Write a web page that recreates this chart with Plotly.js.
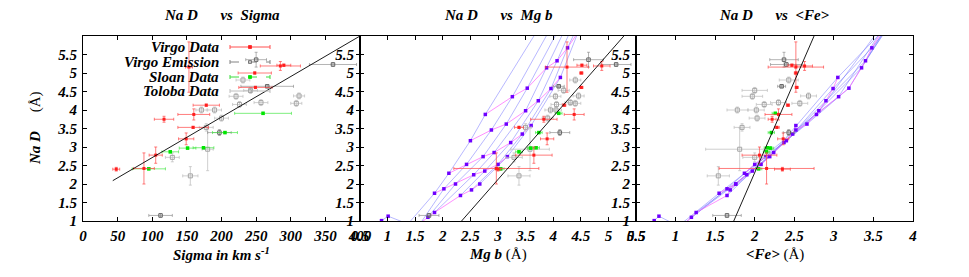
<!DOCTYPE html>
<html><head><meta charset="utf-8">
<script src="https://cdn.plot.ly/plotly-3.0.1.min.js"></script>
<style>html,body{margin:0;padding:0;background:#fff}#chart{width:969px;height:277px}</style>
</head><body><div id="chart"></div>
<script>
// ---------------- data ----------------
// Virgo Data (red)
const virgoNaD      = [5.16,5.19,5.21,5.00,4.61,4.13,3.88,3.75,3.53,3.22,2.78,2.42,2.40];
const virgoNaDErr   = [0.68,0.12,0.03,0.03,0.03,0.03,0.15,0.08,0.03,0.16,0.22,0.42,0.05];
const virgoSigma    = [153,285,290,248,249,178,160,117,159,149,105,88,48];
const virgoSigmaErr = [5,29,10,24,24,19,23,14,22,11,9.5,15,5];
const virgoMgb      = [4.25,4.88,4.52,4.51,4.51,4.20,4.38,3.83,3.38,3.89,3.65,2.97,3.00];
const virgoMgbErr   = [0.39,0.15,0.09,0.03,0.03,0.03,0.18,0.24,0.08,0.12,0.33,0.77,0.05];
const virgoFe       = [2.52,2.63,2.47,2.52,2.53,2.42,2.30,2.22,2.28,2.36,2.06,2.15,2.35];
const virgoFeErr    = [0.35,0.10,0.05,0.02,0.02,0.02,0.17,0.05,0.03,0.07,0.22,0.60,0.10];

// Virgo Emission (dark grey)
const emisNaD      = [5.36,5.23,4.64,3.39,1.15];
const emisNaDErr   = [0.20,0.05,0.03,0.08,0.05];
const emisSigma    = [250,361,266,197,112];
const emisSigmaErr = [15,34,38,17,17];
const emisMgb      = [4.64,5.14,4.10,4.12,1.75];
const emisMgbErr   = [0.27,0.27,0.10,0.18,0.18];
const emisFe       = [2.37,2.40,2.34,2.43,1.65];
const emisFeErr    = [0.18,0.20,0.05,0.07,0.18];

// Sloan Data (green)
const sloanNaD      = [3.91,3.39,2.98,2.97,2.87,2.41];
const sloanNaDErr   = [0.03,0.03,0.03,0.03,0.03,0.03];
const sloanSigma    = [260,205,174,151,126,95];
const sloanSigmaErr = [41,18,15,12,12,24];
const sloanMgb      = [4.10,3.74,3.69,3.59,3.38,3.05];
const sloanMgbErr   = [0.06,0.06,0.06,0.06,0.06,0.06];
const sloanFe       = [2.26,2.21,2.16,2.20,2.15,2.05];
const sloanFeErr    = [0.04,0.04,0.04,0.04,0.04,0.04];

// Toloba Data (light grey)
const tolobaNaD      = [4.81,4.53,4.37,4.15,4.20,4.38,4.18,4.00,4.00,3.78,3.53,2.94,2.72,2.22];
const tolobaNaDErr   = [0.08,0.08,0.08,0.08,0.08,0.08,0.08,0.08,0.08,0.08,0.10,0.58,0.12,0.25];
const tolobaSigma    = [231,242,221,226,257,312,308,171,190,200,178,180,129,155];
const tolobaSigmaErr = [10,10,10,10,10,8,8,8,10,10,10,8,10,11];
const tolobaMgb      = [4.40,4.19,4.04,4.06,4.31,4.46,4.40,3.95,4.05,3.90,3.50,3.58,3.29,3.38];
const tolobaMgbErr   = [0.10,0.10,0.10,0.10,0.10,0.10,0.10,0.10,0.10,0.10,0.10,0.35,0.15,0.20];
const tolobaFe       = [2.43,2.00,1.97,2.12,2.30,2.68,2.57,1.78,2.02,2.03,1.84,1.81,2.00,1.54];
const tolobaFeErr    = [0.12,0.16,0.13,0.10,0.10,0.10,0.10,0.13,0.10,0.10,0.10,0.43,0.15,0.14];

// model grid: rows (top -> bottom), 7 columns each
const gridNaD = [
  [6.60,6.60,6.60,6.60,6.60,6.60,6.60],
  [3.88,4.36,4.59,5.14,5.33,5.68,6.10],
  [3.17,3.46,3.62,3.98,4.25,4.58,4.88],
  [2.29,2.53,2.74,2.85,3.12,3.35,3.58],
  [1.75,1.87,2.00,2.25,2.35,2.53,2.74],
  [0.80,0.95,1.10,1.23,1.69,1.84,2.00]
];
const gridMgb = [
  [3.90,4.10,4.25,4.35,4.45,4.55,4.65],
  [2.77,3.26,3.53,3.88,4.07,4.26,4.45],
  [2.50,2.88,3.15,3.50,3.73,3.96,4.13],
  [2.11,2.43,2.73,2.93,3.23,3.44,3.60],
  [1.85,2.02,2.23,2.56,2.76,3.00,3.17],
  [1.30,1.60,1.73,1.85,2.32,2.52,2.67]
];
const gridFe = [
  [3.72,3.74,3.76,3.78,3.80,3.82,3.84],
  [2.78,3.06,3.19,3.35,3.40,3.48,3.60],
  [2.40,2.52,2.66,2.81,2.90,2.99,3.05],
  [1.87,2.00,2.14,2.24,2.37,2.48,2.52],
  [1.55,1.65,1.76,1.90,1.97,2.08,2.19],
  [1.00,1.12,1.20,1.26,1.65,1.69,1.76]
];
// short lowest-metallicity track (bottom left)
const lowNaD = [1.01,1.13,0.90];
const lowMgb = [0.89,1.01,1.40];
const lowFe  = [0.73,0.79,1.00];

// fitted lines (end points)
const fitSigmaX = [43,400];    const fitSigmaY = [2.09,6.00];
const fitMgbX   = [2.34,5.28]; const fitMgbY   = [1.00,6.00];
const fitFeX    = [1.735,2.75]; const fitFeY   = [1.00,6.00];

// ticks
const yTickVals = [1,1.5,2,2.5,3,3.5,4,4.5,5,5.5];
const yTickText = ['1','1.5','2','2.5','3','3.5','4','4.5','5','5.5'];
const x1TickVals = [0,50,100,150,200,250,300,350,400];
const x1TickText = ['0','50','100','150','200','250','300','350','400'];
const x2TickVals = [0.5,1,1.5,2,2.5,3,3.5,4,4.5,5,5.5];
const x2TickText = ['0.5','1','1.5','2','2.5','3','3.5','4','4.5','5','5.5'];
const x3TickVals = [0.5,1,1.5,2,2.5,3,3.5,4];
const x3TickText = ['0.5','1','1.5','2','2.5','3','3.5','4'];

const legendNames = ['Virgo Data','Virgo Emission','Sloan Data','Toloba Data'];
const panelTitles = ['Na D\u00a0\u00a0\u00a0\u00a0\u00a0\u00a0vs\u00a0\u00a0Sigma',
                     'Na D\u00a0\u00a0\u00a0\u00a0\u00a0\u00a0vs\u00a0\u00a0Mg b',
                     'Na D\u00a0\u00a0\u00a0\u00a0\u00a0\u00a0vs\u00a0\u00a0&lt;Fe&gt;'];

// ---------------- styles ----------------
const SERIF = 'Liberation Serif, Times New Roman, serif';
const RED = 'rgb(255,30,30)', RED_E = 'rgba(255,70,70,0.7)';
const EMIS = 'rgb(100,100,100)', EMIS_E = 'rgba(130,130,130,0.6)';
const GRN = 'rgb(0,230,0)', GRN_E = 'rgba(60,230,60,0.65)';
const TOL = 'rgb(165,165,165)', TOL_E = 'rgba(195,195,195,0.8)';
const PURPLE = 'rgb(110,0,255)';
const BLUE_L = 'rgba(110,110,255,0.7)', MAG_L = 'rgba(255,90,255,0.85)';

function errTrace(x, xe, y, ye, xa, ya, ecol, marker) {
  return {type:'scatter', mode:'markers', x:x, y:y, xaxis:xa, yaxis:ya,
    error_x:{type:'data', array:xe, visible:true, color:ecol, thickness:1, width:1.5},
    error_y:{type:'data', array:ye, visible:true, color:ecol, thickness:1, width:1.5},
    marker:marker, hoverinfo:'skip', showlegend:false};
}
function gridTraces(xg, xlow, xa, ya) {
  const t = [];
  for (let c = 0; c < gridNaD[0].length; c++) {
    t.push({type:'scatter', mode:'lines', x:xg.map(r=>r[c]), y:gridNaD.map(r=>r[c]),
      xaxis:xa, yaxis:ya, line:{color:BLUE_L, width:0.7}, hoverinfo:'skip', showlegend:false});
  }
  for (let r = 0; r < gridNaD.length; r++) {
    t.push({type:'scatter', mode:'lines', x:xg[r], y:gridNaD[r],
      xaxis:xa, yaxis:ya, line:{color:MAG_L, width:0.8}, hoverinfo:'skip', showlegend:false});
  }
  t.push({type:'scatter', mode:'lines+markers', x:xlow, y:lowNaD, xaxis:xa, yaxis:ya,
    line:{color:BLUE_L, width:0.7}, marker:{symbol:'square', size:3.5, color:PURPLE},
    hoverinfo:'skip', showlegend:false});
  t.push({type:'scatter', mode:'markers', x:xg.flat(), y:gridNaD.flat(), xaxis:xa, yaxis:ya,
    marker:{symbol:'square', size:3.5, color:PURPLE}, hoverinfo:'skip', showlegend:false});
  return t;
}
function dataTraces(xs, xa, ya) {
  return [
    errTrace(xs.tol[0], xs.tol[1], tolobaNaD, tolobaNaDErr, xa, ya, TOL_E,
      {symbol:'square-open', size:4, color:TOL, line:{width:1, color:TOL}}),
    errTrace(xs.emis[0], xs.emis[1], emisNaD, emisNaDErr, xa, ya, EMIS_E,
      {symbol:'square-open', size:3.5, color:EMIS, line:{width:1, color:EMIS}}),
    errTrace(xs.sloan[0], xs.sloan[1], sloanNaD, sloanNaDErr, xa, ya, GRN_E,
      {symbol:'square', size:3.5, color:GRN}),
    errTrace(xs.virgo[0], xs.virgo[1], virgoNaD, virgoNaDErr, xa, ya, RED_E,
      {symbol:'square', size:3, color:RED})
  ];
}
function fitTrace(x, y, xa, ya) {
  return {type:'scatter', mode:'lines', x:x, y:y, xaxis:xa, yaxis:ya,
    line:{color:'#000', width:0.9}, hoverinfo:'skip', showlegend:false};
}

let traces = [];
traces = traces.concat(dataTraces({tol:[tolobaSigma,tolobaSigmaErr], emis:[emisSigma,emisSigmaErr],
  sloan:[sloanSigma,sloanSigmaErr], virgo:[virgoSigma,virgoSigmaErr]}, 'x', 'y'));
traces.push(fitTrace(fitSigmaX, fitSigmaY, 'x', 'y'));

traces = traces.concat(gridTraces(gridMgb, lowMgb, 'x2', 'y2'));
traces = traces.concat(dataTraces({tol:[tolobaMgb,tolobaMgbErr], emis:[emisMgb,emisMgbErr],
  sloan:[sloanMgb,sloanMgbErr], virgo:[virgoMgb,virgoMgbErr]}, 'x2', 'y2'));
traces.push(fitTrace(fitMgbX, fitMgbY, 'x2', 'y2'));

traces = traces.concat(gridTraces(gridFe, lowFe, 'x3', 'y3'));
traces = traces.concat(dataTraces({tol:[tolobaFe,tolobaFeErr], emis:[emisFe,emisFeErr],
  sloan:[sloanFe,sloanFeErr], virgo:[virgoFe,virgoFeErr]}, 'x3', 'y3'));
traces.push(fitTrace(fitFeX, fitFeY, 'x3', 'y3'));

// ---------------- layout ----------------
const W = 969, H = 277;
const px = v => v / W, py = v => 1 - v / H;
const tickFont = {family:SERIF, size:15, weight:'bold', style:'italic', color:'#000'};
function xAx(dom, range, tv, tt, anchor) {
  return {domain:dom, range:range, tickvals:tv, ticktext:tt, anchor:anchor,
    ticks:'inside', ticklen:4, tickcolor:'#000', tickwidth:1, showline:true, linecolor:'#000',
    linewidth:1, mirror:'ticks', showgrid:false, zeroline:false, tickfont:tickFont,
    ticklabelstandoff:1, automargin:false, fixedrange:true};
}
function yAx(anchor) {
  return {domain:[py(221), py(36)], range:[1,6], tickvals:yTickVals, ticktext:yTickText, anchor:anchor,
    ticks:'inside', ticklen:4, tickcolor:'#000', tickwidth:1, showline:true, linecolor:'#000',
    linewidth:1, mirror:'ticks', showgrid:false, zeroline:false, tickfont:tickFont,
    ticklabelstandoff:2, automargin:false, fixedrange:true};
}

const titleFont = {family:SERIF, size:15, color:'#000'};
const annotations = [];
const centers = [px(221.5), px(498), px(774.5)];
panelTitles.forEach((t, i) => annotations.push({xref:'paper', yref:'paper', x:centers[i], y:py(15),
  xanchor:'center', yanchor:'middle', showarrow:false, text:'<b><i>' + t + '</i></b>', font:titleFont}));
const xTitles = ['<b><i>Sigma in km s<sup>-1</sup></i></b>', '<b><i>Mg b</i></b> (Å)', '<b><i>&lt;Fe&gt;</i></b> (Å)'];
xTitles.forEach((t, i) => annotations.push({xref:'paper', yref:'paper', x:centers[i], y:py(254),
  xanchor:'center', yanchor:'middle', showarrow:false, text:t, font:{family:SERIF, size:15, color:'#000'}}));
annotations.push({xref:'paper', yref:'paper', x:px(35), y:py(128), xanchor:'center', yanchor:'middle',
  textangle:-90, showarrow:false, text:'<b><i>Na D</i></b>\u00a0\u00a0\u00a0\u00a0\u00a0(Å)',
  font:{family:SERIF, size:15, color:'#000'}});

// legend (text on the left, sample on the right, as in the original)
const legRows = [47, 62, 77, 91];
const legStyle = [
  {c:'rgb(255,80,80)', dash:'solid', m:RED, open:false},
  {c:'rgb(130,130,130)', dash:'dash', m:EMIS, open:true},
  {c:'rgb(60,220,60)', dash:'dash', m:GRN, open:false},
  {c:'rgb(190,190,190)', dash:'solid', m:TOL, open:true}
];
const shapes = [];
legendNames.forEach((n, i) => {
  const yy = legRows[i];
  annotations.push({xref:'paper', yref:'paper', x:px(221), y:py(yy), xanchor:'right', yanchor:'middle',
    showarrow:false, text:'<b><i>' + n + '</i></b>', font:{family:SERIF, size:15, color:'#000'}});
  const s = legStyle[i];
  shapes.push({type:'line', xref:'paper', yref:'paper', x0:px(230), x1:px(270), y0:py(yy), y1:py(yy),
    line:{color:s.c, width:1, dash:s.dash}});
  shapes.push({type:'line', xref:'paper', yref:'paper', x0:px(230), x1:px(230), y0:py(yy-2), y1:py(yy+2),
    line:{color:s.c, width:1}});
  shapes.push({type:'line', xref:'paper', yref:'paper', x0:px(270), x1:px(270), y0:py(yy-2), y1:py(yy+2),
    line:{color:s.c, width:1}});
  shapes.push({type:'rect', xref:'paper', yref:'paper', x0:px(248.5), x1:px(251.5), y0:py(yy+1.5), y1:py(yy-1.5),
    line:{color:s.m, width:0.8}, fillcolor:s.open ? 'rgba(0,0,0,0)' : s.m});
});

const layout = {
  width:W, height:H, margin:{l:0, r:0, t:0, b:0}, paper_bgcolor:'#fff', plot_bgcolor:'#fff',
  showlegend:false,
  xaxis: xAx([px(83), px(360)], [0,400], x1TickVals, x1TickText, 'y'),
  xaxis2: xAx([px(360), px(636)], [0.5,5.5], x2TickVals, x2TickText, 'y2'),
  xaxis3: xAx([px(636), px(913)], [0.5,4], x3TickVals, x3TickText, 'y3'),
  yaxis: yAx('x'), yaxis2: yAx('x2'), yaxis3: yAx('x3'),
  annotations:annotations, shapes:shapes
};
Plotly.newPlot('chart', traces, layout, {staticPlot:true, displayModeBar:false});
</script>
</body></html>
